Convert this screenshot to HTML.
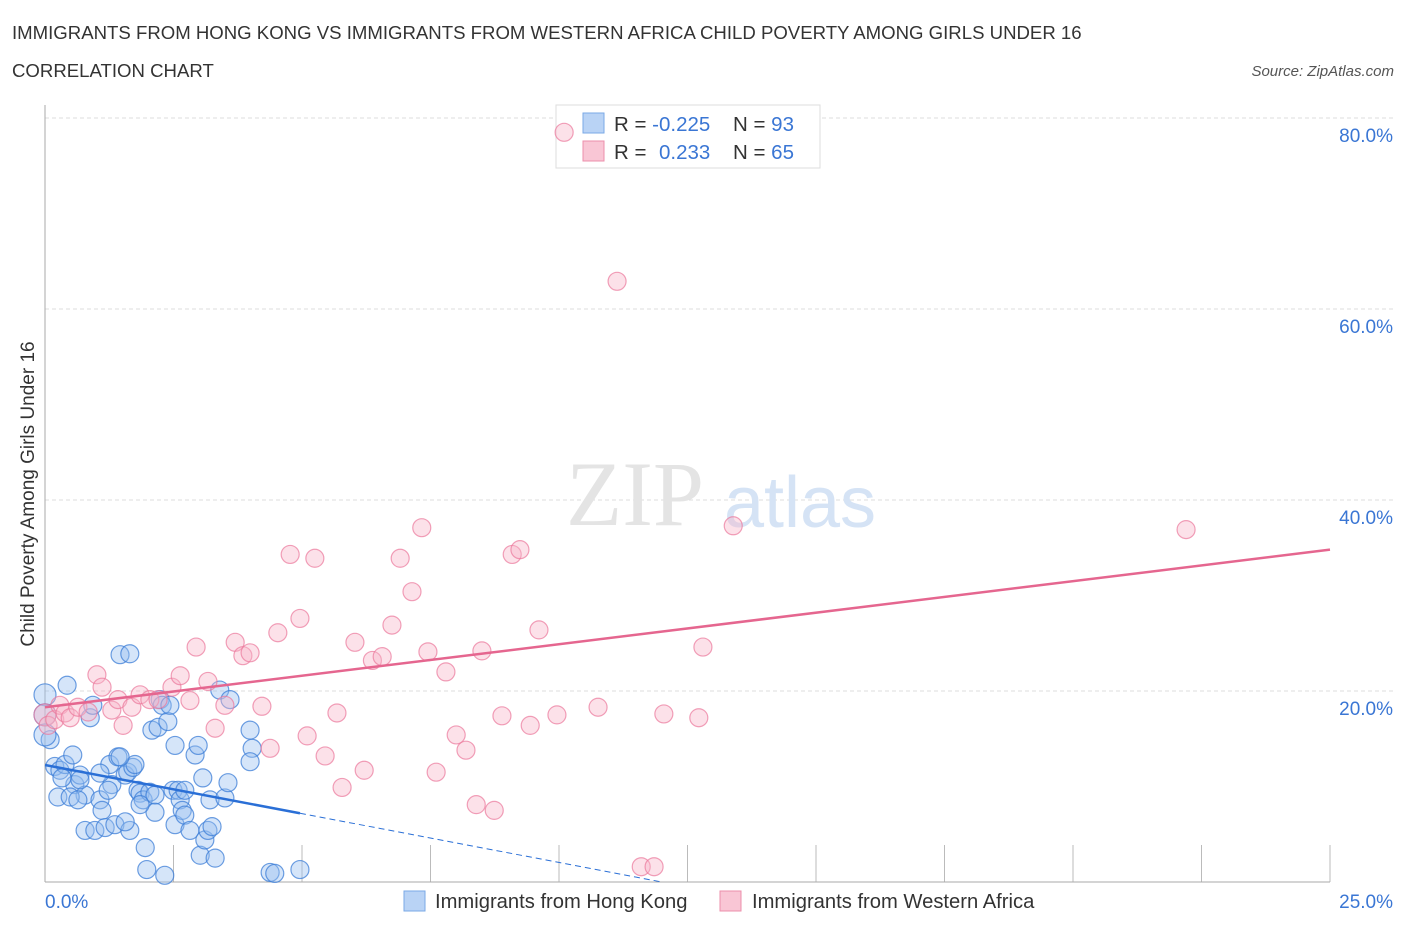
<!DOCTYPE html>
<html><head><meta charset="utf-8"><style>
body{margin:0;background:#fff;font-family:"Liberation Sans",sans-serif;}
svg{display:block}
</style></head><body>
<svg id="chart" width="1406" height="930" xmlns="http://www.w3.org/2000/svg">
<text x="12" y="39" font-size="18.6" fill="#333">IMMIGRANTS FROM HONG KONG VS IMMIGRANTS FROM WESTERN AFRICA CHILD POVERTY AMONG GIRLS UNDER 16</text>
<text x="12" y="77" font-size="18.6" fill="#333">CORRELATION CHART</text>
<text x="1394" y="76" font-size="15" fill="#555" font-style="italic" text-anchor="end">Source: ZipAtlas.com</text>
<text x="34" y="494" font-size="19" fill="#333" text-anchor="middle" transform="rotate(-90 34 494)">Child Poverty Among Girls Under 16</text>
<g id="grid"></g>
<text x="635" y="525" font-size="92" fill="#e4e4e4" font-family="Liberation Serif,serif" text-anchor="middle">ZIP</text>
<text x="800" y="527" font-size="72" fill="#d5e3f5" text-anchor="middle">atlas</text>
<g>
<rect x="556" y="105" width="264" height="63" fill="#fff" stroke="#ddd"/>
<rect x="583" y="113" width="21" height="20" fill="#b9d3f5" stroke="#7aa8e6"/>
<rect x="583" y="141" width="21" height="20" fill="#f9c6d5" stroke="#ec8fab"/>
<text x="614" y="131" font-size="20.5" fill="#333">R = <tspan fill="#3a76d4">-0.225</tspan><tspan x="733">N = </tspan><tspan fill="#3a76d4">93</tspan></text>
<text x="614" y="159" font-size="20.5" fill="#333">R = <tspan x="659" fill="#3a76d4">0.233</tspan><tspan x="733">N = </tspan><tspan fill="#3a76d4">65</tspan></text>
</g>
<g id="marks"></g>
<g>
<rect x="404" y="891" width="21" height="20" fill="#b9d3f5" stroke="#7aa8e6"/>
<text x="435" y="908" font-size="20.2" fill="#333">Immigrants from Hong Kong</text>
<rect x="720" y="891" width="21" height="20" fill="#f9c6d5" stroke="#ec8fab"/>
<text x="752" y="908" font-size="20.2" fill="#333">Immigrants from Western Africa</text>
</g>
</svg>
<script>
const xTicksLabels=["0.0%","25.0%"];
const yTicks=[20,40,60,80];
const yTickLabels=["20.0%","40.0%","60.0%","80.0%"];
const blueX=[0,0.1,0.19,0.29,0.39,0.43,0.54,0.58,0.68,0.78,0.88,0.93,0.25,0.49,0.64,0.78,0.97,1.07,1.11,1.17,1.26,1.3,1.36,1.42,1.46,1.56,1.61,1.65,1.65,1.71,1.75,1.81,1.85,1.91,1.95,1.98,2.04,2.08,2.14,2.14,2.2,2.24,2.28,2.33,2.39,2.43,2.49,2.53,2.53,2.59,2.63,2.67,2.72,2.82,2.92,2.98,3.02,3.07,3.11,3.17,3.21,3.25,3.31,3.4,3.5,3.56,3.6,3.99,4.03,3.99,4.38,4.47,4.96,1.46,0.68,0.33,1.07,1.85,0,0,1.23,1.56,2.72];
const blueY=[19.6,14.9,12.1,11.7,12.3,20.6,13.3,10.2,11.2,9.1,17.2,18.5,8.9,8.9,8.6,5.4,5.4,8.6,7.5,5.7,12.3,10.2,6.0,13.1,23.8,11.2,11.5,23.9,5.4,12.0,12.3,9.6,9.3,8.6,3.6,1.3,9.4,15.9,9.1,7.3,16.2,19.1,18.5,0.7,16.8,18.5,9.6,14.3,6.0,9.6,8.6,7.5,7.0,5.4,13.3,14.3,2.8,10.9,4.4,5.4,8.6,5.8,2.5,20.1,8.8,10.4,19.1,15.9,14.0,12.6,1.0,0.9,1.3,13.1,10.7,10.9,11.4,8.1,17.5,15.4,9.6,6.3,9.6];
const pinkX=[0,0.06,0.19,0.29,0.39,0.49,0.64,0.84,1.01,1.11,1.3,1.42,1.52,1.69,1.85,2.04,2.2,2.47,2.63,2.82,2.94,3.17,3.31,3.5,3.7,3.85,3.99,4.22,4.38,4.53,4.77,4.96,5.1,5.25,5.45,5.68,5.78,6.03,6.21,6.37,6.56,6.75,6.91,7.14,7.33,7.45,7.61,7.8,8.0,8.19,8.39,8.5,8.74,8.89,9.09,9.24,9.44,9.61,9.96,10.1,10.76,11.13,11.6,11.85,12.04,12.72,12.8,13.39,22.2];
const pinkY=[17.5,16.4,17.0,18.5,17.7,17.2,18.3,17.8,21.7,20.4,18.0,19.1,16.4,18.3,19.6,19.1,19.1,20.4,21.6,19.0,24.6,21.0,16.1,18.5,25.1,23.7,24.0,18.4,14.0,26.1,34.3,27.6,15.3,33.9,13.2,17.7,9.9,25.1,11.7,23.2,23.6,26.9,33.9,30.4,37.1,24.1,11.5,22.0,15.4,13.8,8.1,24.2,7.5,17.4,34.3,34.8,16.4,26.4,17.5,78.5,18.3,62.9,1.6,1.6,17.6,17.2,24.6,37.3,36.9];
const blueTrend=[[0,12.25],[4.96,7.2],[12,0]];
const pinkTrend=[[0,18.3],[25,34.8]];
const NS="http://www.w3.org/2000/svg";
const X=v=>45+v*51.4, Y=v=>882-v*9.55;
function mk(tag,attrs,parent){const e=document.createElementNS(NS,tag);for(const k in attrs)e.setAttribute(k,attrs[k]);parent.appendChild(e);return e;}
const grid=document.getElementById('grid'), marks=document.getElementById('marks');
yTicks.forEach((t,i)=>{
 const l=mk('line',{x1:45,x2:1395,y1:Y(t),y2:Y(t),stroke:'#ddd','stroke-dasharray':'4 3'},grid);
 
 
 const tx=mk('text',{x:1393,y:Y(t)+24,'font-size':19,fill:'#3a76d4','text-anchor':'end'},grid);
 tx.textContent=yTickLabels[i];
 
 
});
for(let i=1;i<=10;i++){
 const t=mk('line',{x1:X(i*2.5),x2:X(i*2.5),y1:845,y2:882,stroke:'#bbb'},grid);
 
 
}
const ax=mk('line',{x1:45,x2:45,y1:105,y2:882,stroke:'#aaa'},grid);


const bx=mk('line',{x1:45,x2:1330,y1:882,y2:882,stroke:'#aaa'},grid);


[[0,'start',45],[25,'end',1393]].forEach((d,i)=>{
 const tx=mk('text',{x:d[2],y:908,'font-size':19,fill:'#3a76d4','text-anchor':d[1]},grid);
 tx.textContent=xTicksLabels[i];
 
 
});
blueX.forEach((x,i)=>{
 const c=mk('circle',{cx:X(x),cy:Y(blueY[i]),r:x===0?11:9,fill:'rgba(150,190,240,0.4)',stroke:'rgba(60,125,215,0.75)','stroke-width':1.2},marks);
 
 
});
pinkX.forEach((x,i)=>{
 const c=mk('circle',{cx:X(x),cy:Y(pinkY[i]),r:x===0?11:9,fill:'rgba(248,180,200,0.4)',stroke:'rgba(235,120,155,0.7)','stroke-width':1.2},marks);
 
 
});
const b1=mk('line',{x1:X(blueTrend[0][0]),y1:Y(blueTrend[0][1]),x2:X(blueTrend[1][0]),y2:Y(blueTrend[1][1]),stroke:'#2a6fd6','stroke-width':2.5},marks);


const b2=mk('line',{x1:X(blueTrend[1][0]),y1:Y(blueTrend[1][1]),x2:X(blueTrend[2][0]),y2:Y(blueTrend[2][1]),stroke:'#2a6fd6','stroke-width':1,'stroke-dasharray':'6 4'},marks);


const p1=mk('line',{x1:X(pinkTrend[0][0]),y1:Y(pinkTrend[0][1]),x2:X(pinkTrend[1][0]),y2:Y(pinkTrend[1][1]),stroke:'#e5668f','stroke-width':2.5},marks);


</script>
</body></html>
